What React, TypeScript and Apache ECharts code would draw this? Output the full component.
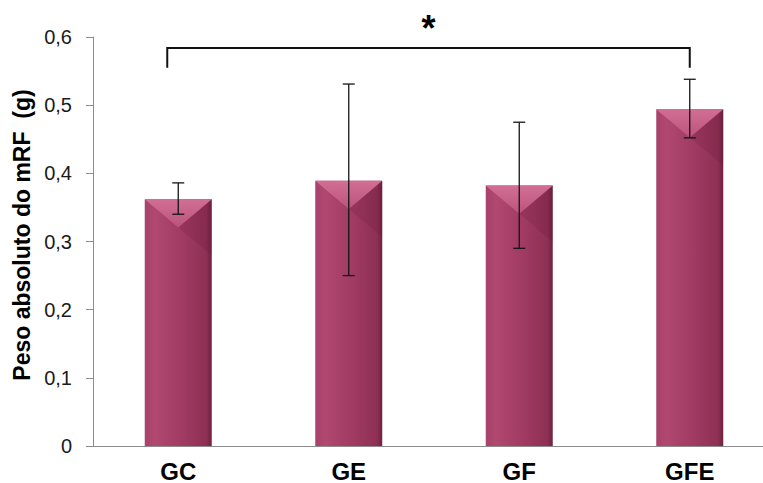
import React, { useEffect, useRef } from "react";
import * as echarts from "echarts";

const categories = ["GC", "GE", "GF", "GFE"];
const means = [0.362, 0.389, 0.382, 0.494];
const errLow = [0.34, 0.25, 0.29, 0.452];
const errHigh = [0.386, 0.531, 0.475, 0.538];
const yTicks = [0, 0.1, 0.2, 0.3, 0.4, 0.5, 0.6];
const yAxisTitle = "Peso absoluto do mRF  (g)";
const bracketFrom = 0; // GC
const bracketTo = 3; // GFE
const bracketTop = 0.584;
const bracketBottom = 0.555;
const significance = "*";

const FONT = "'Liberation Sans', Arial, sans-serif";

export default function App() {
  const ref = useRef<HTMLDivElement>(null);

  useEffect(() => {
    if (!ref.current) return;
    const chart = echarts.init(ref.current, null, { renderer: "svg" });

    const barData = means.map((v, i) => [i, v]);
    const errData = means.map((_, i) => [i, errLow[i], errHigh[i]]);

    const option: any = {
      animation: false,
      backgroundColor: "#ffffff",
      grid: { left: 93, right: 1, top: 37, bottom: 36 },
      xAxis: {
        type: "category",
        data: categories,
        axisLine: { show: true, lineStyle: { color: "#8c8c8c", width: 1 } },
        axisTick: { show: false },
        axisLabel: {
          color: "#000",
          fontFamily: FONT,
          fontWeight: "bold",
          fontSize: 24,
          margin: 13,
        },
        splitLine: { show: false },
      },
      yAxis: {
        type: "value",
        min: yTicks[0],
        max: yTicks[yTicks.length - 1],
        interval: 0.1,
        axisLine: { show: true, lineStyle: { color: "#8c8c8c", width: 1 } },
        axisTick: { show: true, length: 7, lineStyle: { color: "#8c8c8c" } },
        axisLabel: {
          color: "#1a1a1a",
          fontFamily: FONT,
          fontSize: 20,
          margin: 21,
          formatter: (v: number) => (v === 0 ? "0" : v.toFixed(1).replace(".", ",")),
        },
        splitLine: { show: false },
      },
      graphic: [
        {
          type: "text",
          x: 22,
          y: 235,
          rotation: Math.PI / 2,
          style: {
            text: yAxisTitle,
            fontFamily: FONT,
            fontWeight: "bold",
            fontSize: 23,
            fill: "#000",
            textAlign: "center",
            textVerticalAlign: "middle",
          },
        },
      ],
      series: [
        {
          type: "custom",
          name: "bars",
          data: barData,
          z: 2,
          renderItem: (params: any, api: any) => {
            const xi = api.value(0);
            const v = api.value(1);
            const top = api.coord([xi, v]);
            const base = api.coord([xi, 0]);
            const bw = api.size([1, 0])[0] * 0.393;
            const x0 = top[0] - bw / 2;
            const x1 = top[0] + bw / 2;
            const h = base[1] - top[1];
            const d = bw * 0.42;
            return {
              type: "group",
              children: [
                {
                  type: "rect",
                  shape: { x: x0, y: top[1], width: bw, height: h },
                  style: {
                    fill: new echarts.graphic.LinearGradient(0, 0, 1, 0, [
                      { offset: 0, color: "#a8426a" },
                      { offset: 0.15, color: "#b04870" },
                      { offset: 0.55, color: "#a13b63" },
                      { offset: 0.92, color: "#8e3054" },
                      { offset: 1, color: "#6e2240" },
                    ]),
                  },
                },
                {
                  type: "polygon",
                  shape: {
                    points: [
                      [x1, top[1]],
                      [top[0], top[1] + d],
                      [x1, top[1] + 2 * d],
                    ],
                  },
                  style: { fill: "rgba(80,10,40,0.12)" },
                },
                {
                  type: "polygon",
                  shape: {
                    points: [
                      [x0, top[1]],
                      [x1, top[1]],
                      [top[0], top[1] + d],
                    ],
                  },
                  style: {
                    fill: new echarts.graphic.LinearGradient(0, 0, 0, 1, [
                      { offset: 0, color: "#d26e94" },
                      { offset: 1, color: "#bb547c" },
                    ]),
                  },
                },
              ],
            };
          },
        },
        {
          type: "custom",
          name: "errors",
          data: errData,
          z: 3,
          renderItem: (params: any, api: any) => {
            const xi = api.value(0);
            const lo = api.coord([xi, api.value(1)]);
            const hi = api.coord([xi, api.value(2)]);
            const cw = 6;
            const st = { stroke: "#151515", lineWidth: 1.3 };
            return {
              type: "group",
              children: [
                { type: "line", shape: { x1: lo[0], y1: lo[1], x2: hi[0], y2: hi[1] }, style: st },
                { type: "line", shape: { x1: hi[0] - cw, y1: hi[1], x2: hi[0] + cw, y2: hi[1] }, style: st },
                { type: "line", shape: { x1: lo[0] - cw, y1: lo[1], x2: lo[0] + cw, y2: lo[1] }, style: st },
              ],
            };
          },
        },
        {
          type: "custom",
          name: "bracket",
          data: [[bracketFrom, bracketTo]],
          z: 4,
          clip: false,
          renderItem: (params: any, api: any) => {
            const a = api.value(0);
            const b = api.value(1);
            const pTopL = api.coord([a, bracketTop]);
            const pBotL = api.coord([a, bracketBottom]);
            const pTopR = api.coord([b, bracketTop]);
            const pBotR = api.coord([b, bracketBottom]);
            const xl = pTopL[0] - 11;
            const xr = pTopR[0];
            const mid = (xl + xr) / 2;
            return {
              type: "group",
              children: [
                {
                  type: "polyline",
                  shape: {
                    points: [
                      [xl, pBotL[1]],
                      [xl, pTopL[1]],
                      [xr, pTopR[1]],
                      [xr, pBotR[1]],
                    ],
                  },
                  style: { stroke: "#111", lineWidth: 2, fill: "none" },
                },
                {
                  type: "text",
                  x: mid,
                  y: pTopL[1] - 19,
                  style: {
                    text: significance,
                    fontFamily: FONT,
                    fontWeight: "bold",
                    fontSize: 36,
                    fill: "#000",
                    textAlign: "center",
                    textVerticalAlign: "middle",
                  },
                },
              ],
            };
          },
        },
      ],
    };

    chart.setOption(option);
    return () => chart.dispose();
  }, []);

  return (
    <div
      style={{
        position: "fixed",
        left: 0,
        top: 0,
        width: 763,
        height: 483,
        overflow: "hidden",
        background: "#fff",
      }}
    >
      <div ref={ref} style={{ width: 776, height: 483 }} />
    </div>
  );
}
